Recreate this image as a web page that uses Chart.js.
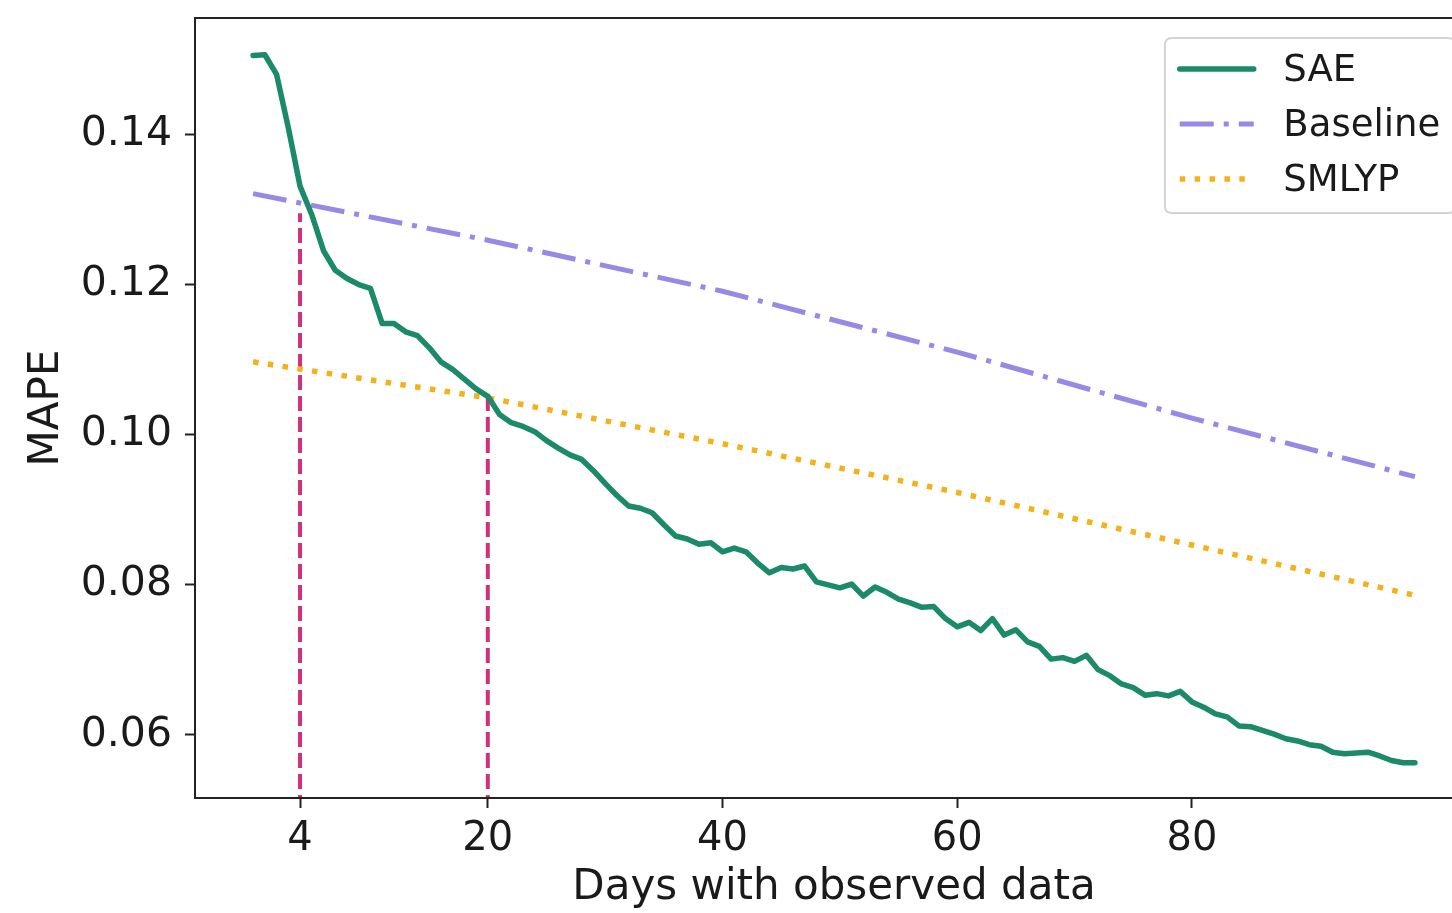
<!DOCTYPE html>
<html>
<head>
<meta charset="utf-8">
<script src="https://cdn.jsdelivr.net/npm/chart.js@4.4.1/dist/chart.umd.min.js"></script>
<style>
  html, body { margin: 0; padding: 0; background: #ffffff; overflow: hidden; }
  #wrap { width: 1475px; height: 913px; }
</style>
</head>
<body>
<div id="wrap"><canvas id="chart" width="1475" height="913"></canvas></div>
<script>
// MAPE of the SAE model per number of observed days (day 0 .. 99)
const saeMape = [
  0.1505, 0.1506, 0.1480, 0.1409, 0.1331, 0.1293, 0.1245, 0.1219, 0.1208, 0.1200,
  0.1195, 0.1148, 0.1148, 0.1137, 0.1132, 0.1116, 0.1097, 0.1087, 0.1074, 0.1061,
  0.1051, 0.1027, 0.1016, 0.1011, 0.1004, 0.0992, 0.0982, 0.0973, 0.0967, 0.0952,
  0.0935, 0.0919, 0.0905, 0.0902, 0.0896, 0.0880, 0.0865, 0.0861, 0.0854, 0.0856,
  0.0844, 0.0849, 0.0844, 0.0829, 0.0816, 0.0823, 0.0821, 0.0825, 0.0804, 0.0800,
  0.0796, 0.0801, 0.0785, 0.0797, 0.0790, 0.0781, 0.0776, 0.0770, 0.0771, 0.0755,
  0.0744, 0.0750, 0.0739, 0.0755, 0.0733, 0.0740, 0.0724, 0.0718, 0.0701, 0.0703,
  0.0698, 0.0706, 0.0687, 0.0679, 0.0668, 0.0663, 0.0653, 0.0655, 0.0652, 0.0658,
  0.0644, 0.0637, 0.0628, 0.0624, 0.0612, 0.0611, 0.0606, 0.0601, 0.0595, 0.0592,
  0.0587, 0.0585, 0.0577, 0.0575, 0.0576, 0.0577, 0.0572, 0.0566, 0.0563, 0.0563
];

// Reference curves
const baselineDays = [0, 20, 40, 60, 80, 99];
const baselineMape = [0.1321, 0.1259, 0.1191, 0.1110, 0.1022, 0.0944];
const smlypDays = [0, 20, 40, 60, 80, 99];
const smlypMape = [0.1097, 0.1049, 0.0988, 0.0923, 0.0853, 0.0786];

// Days where SAE overtakes Baseline and SMLYP
const markerDays = [4, 20];
const markerMape = [0.1295, 0.1051];

// Axis ticks
const xTicks = [4, 20, 40, 60, 80];
const yTicks = [0.06, 0.08, 0.10, 0.12, 0.14];

const FONT = "'DejaVu Sans', 'Liberation Sans', sans-serif";
const INK = '#1a1a1a';

const toPoints = (xs, ys) => xs.map((x, i) => ({ x: x, y: ys[i] }));

const datasets = [
  {
    label: 'SAE',
    data: saeMape.map((v, i) => ({ x: i, y: v })),
    borderColor: '#1b8a6b',
    borderWidth: 5.5,
    borderJoinStyle: 'round',
    borderCapStyle: 'round',
    pointRadius: 0,
    order: 1
  },
  {
    label: 'Baseline',
    data: toPoints(baselineDays, baselineMape),
    borderColor: '#9a88e6',
    borderWidth: 5,
    borderDash: [34, 10, 5, 10],
    borderCapStyle: 'butt',
    pointRadius: 0,
    order: 2
  },
  {
    label: 'SMLYP',
    data: toPoints(smlypDays, smlypMape),
    borderColor: '#f3b21c',
    borderWidth: 5.5,
    borderDash: [5.5, 9.4],
    borderCapStyle: 'butt',
    pointRadius: 0,
    order: 3
  }
];

markerDays.forEach((d, i) => {
  datasets.push({
    label: 'marker' + d,
    data: [{ x: d, y: 0.05 }, { x: d, y: markerMape[i] }],
    borderColor: '#d3307c',
    borderWidth: 4,
    borderDash: [15, 6],
    borderCapStyle: 'butt',
    pointRadius: 0,
    order: 4,
    inLegend: false
  });
});

// Axes frame drawn over the data, like plot spines
const framePlugin = {
  id: 'frame',
  afterDatasetsDraw(chart) {
    const { ctx, chartArea: a } = chart;
    ctx.save();
    ctx.strokeStyle = '#222222';
    ctx.lineWidth = 2;
    ctx.strokeRect(a.left, a.top, a.right - a.left, a.bottom - a.top);
    ctx.restore();
  }
};

// Boxed legend in the upper-right corner of the plot
const boxLegendPlugin = {
  id: 'boxLegend',
  afterDraw(chart) {
    const { ctx, chartArea: a } = chart;
    const fs = 37;
    const items = chart.data.datasets.filter(ds => ds.inLegend !== false);
    ctx.save();
    ctx.font = fs + 'px ' + FONT;
    const textW = Math.max(...items.map(ds => ctx.measureText(ds.label).width));
    const pad = 0.4 * fs, handle = 2.0 * fs, gap = 0.8 * fs;
    const w = pad + handle + gap + textW + pad;
    const rowH = 55;
    const h = 175;
    const right = a.right - 18;
    const left = right - w;
    const top = a.top + 20;

    // box
    const r = 7;
    ctx.beginPath();
    ctx.moveTo(left + r, top);
    ctx.lineTo(left + w - r, top);
    ctx.quadraticCurveTo(left + w, top, left + w, top + r);
    ctx.lineTo(left + w, top + h - r);
    ctx.quadraticCurveTo(left + w, top + h, left + w - r, top + h);
    ctx.lineTo(left + r, top + h);
    ctx.quadraticCurveTo(left, top + h, left, top + h - r);
    ctx.lineTo(left, top + r);
    ctx.quadraticCurveTo(left, top, left + r, top);
    ctx.closePath();
    ctx.fillStyle = 'rgba(255,255,255,0.85)';
    ctx.fill();
    ctx.strokeStyle = '#d4d4d4';
    ctx.lineWidth = 2;
    ctx.stroke();

    items.forEach((ds, i) => {
      const cy = top + 31 + i * rowH;
      const hx = left + pad;
      ctx.beginPath();
      ctx.setLineDash(ds.borderDash || []);
      ctx.lineDashOffset = 0;
      ctx.lineCap = ds.borderCapStyle || 'butt';
      ctx.strokeStyle = ds.borderColor;
      ctx.lineWidth = ds.borderWidth;
      ctx.moveTo(hx, cy);
      ctx.lineTo(hx + handle, cy);
      ctx.stroke();
      ctx.setLineDash([]);
      ctx.fillStyle = INK;
      ctx.textAlign = 'left';
      ctx.textBaseline = 'middle';
      ctx.fillText(ds.label, hx + handle + gap, cy + 2);
    });
    ctx.restore();
  }
};

new Chart(document.getElementById('chart'), {
  type: 'line',
  data: { datasets: datasets },
  options: {
    responsive: false,
    animation: false,
    devicePixelRatio: 1,
    layout: { padding: { top: 18, right: 2, bottom: 0, left: 0 } },
    plugins: {
      legend: { display: false },
      tooltip: { enabled: false }
    },
    elements: { line: { tension: 0, fill: false } },
    scales: {
      x: {
        type: 'linear',
        min: -4.95,
        max: 103.95,
        afterBuildTicks: (axis) => { axis.ticks = xTicks.map(v => ({ value: v })); },
        afterFit: (axis) => {
          axis.height = 115;
          axis.paddingLeft = 0;
          axis.paddingRight = 0;
        },
        ticks: {
          autoSkip: false,
          maxRotation: 0,
          padding: 8,
          color: INK,
          font: { family: FONT, size: 40 },
          callback: (v) => String(v)
        },
        grid: {
          display: true,
          drawOnChartArea: false,
          drawTicks: true,
          tickLength: 10,
          tickWidth: 2,
          tickColor: '#222222'
        },
        border: { display: false },
        title: {
          display: true,
          text: 'Days with observed data',
          color: INK,
          font: { family: FONT, size: 42 },
          padding: { top: 0, bottom: 0 }
        }
      },
      y: {
        type: 'linear',
        min: 0.0516,
        max: 0.1555,
        afterBuildTicks: (axis) => { axis.ticks = yTicks.map(v => ({ value: v })); },
        afterFit: (axis) => {
          axis.width = 195;
          axis.paddingTop = 0;
          axis.paddingBottom = 0;
        },
        ticks: {
          autoSkip: false,
          padding: 13,
          color: INK,
          font: { family: FONT, size: 41 },
          callback: (v) => Number(v).toFixed(2)
        },
        grid: {
          display: true,
          drawOnChartArea: false,
          drawTicks: true,
          tickLength: 10,
          tickWidth: 2,
          tickColor: '#222222'
        },
        border: { display: false },
        title: {
          display: true,
          text: 'MAPE',
          color: INK,
          font: { family: FONT, size: 42 },
          padding: { top: 22, bottom: 0 }
        }
      }
    }
  },
  plugins: [framePlugin, boxLegendPlugin]
});
</script>
</body>
</html>
